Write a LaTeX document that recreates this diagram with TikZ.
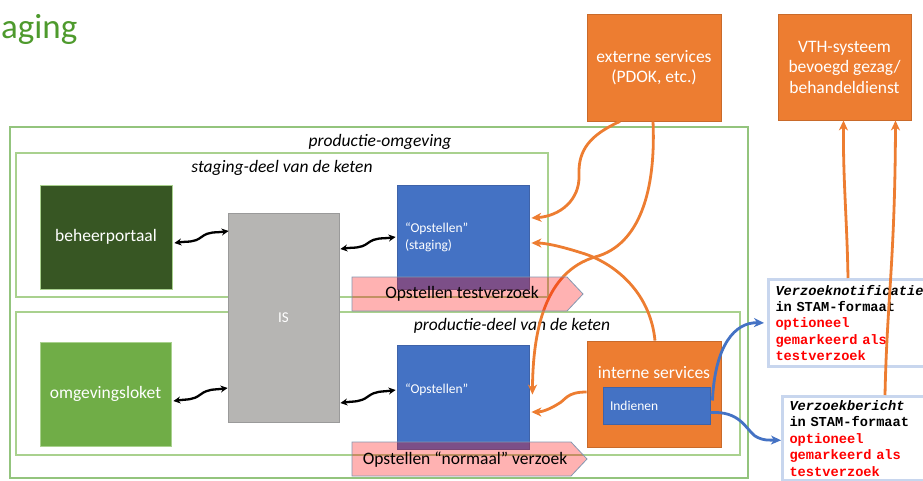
\documentclass[tikz,border=0pt]{standalone}
\usepackage{fontspec}
\setmainfont{Carlito}
\newfontfamily\monof{Liberation Mono}
\usetikzlibrary{arrows.meta,calc}
\definecolor{ctitle}{HTML}{4E9A2D}
\definecolor{cline}{HTML}{A9D18E}
\definecolor{clineo}{HTML}{93C47D}
\definecolor{cdkgreen}{HTML}{375623}
\definecolor{cgreen}{HTML}{70AD47}
\definecolor{cgray}{HTML}{B6B5B3}
\definecolor{cgrayb}{HTML}{9A9A9A}
\definecolor{cblue}{HTML}{4472C4}
\definecolor{cblueb}{HTML}{3F63A8}
\definecolor{corange}{HTML}{ED7D31}
\definecolor{corangeb}{HTML}{C96A2A}
\definecolor{cpinkb}{HTML}{8497B0}
\definecolor{cglow}{HTML}{C8D6EE}
\begin{document}
\begin{tikzpicture}[x=1pt,y=-1pt,
  box/.style={draw, line width=0.8pt, inner sep=0pt, text=white, align=center,
    font=\fontsize{17.5}{20.5}\selectfont},
  small/.style={font=\fontsize{13.5}{17}\selectfont},
  lbl/.style={inner sep=0pt, font=\fontsize{17.5}{20.5}\selectfont\itshape},
  cont/.style={draw=cline, line width=1.2pt},
  oarr/.style={draw=corange, line width=2.8pt, -{Stealth[length=10pt,width=9pt,inset=3pt]}},
  barr/.style={draw=cblue, line width=2.8pt, -{Stealth[length=10pt,width=9pt,inset=3pt]}},
  dbl/.style={line width=2.3pt, {Stealth[length=7pt,width=7pt]}-{Stealth[length=7pt,width=7pt]}},
  vbox/.style={draw=cglow, line width=3pt, fill=white, align=left, inner xsep=7pt,
    font=\monof\bfseries\fontsize{13.7}{16.4}\selectfont},
  pinkarrow/.style={fill=red, fill opacity=0.3, draw=cpinkb, draw opacity=1, line width=0.8pt},
]
\useasboundingbox (0,0) rectangle (923,480);

% title
\node[anchor=base west, inner sep=0pt, text=ctitle, font=\fontsize{35}{38}\selectfont] (title) at (1,38) {aging};

% containers
\draw[draw=clineo, line width=1.2pt] (10,127) rectangle (748,478);
\node[lbl] (lprod) at (380,142) {productie-omgeving};
\draw[cont] (16,153) rectangle (548,297);
\node[lbl] (lstag) at (282,168) {staging-deel van de keten};
\draw[cont] (16,312) rectangle (740,455);
\node[lbl] (lpd) at (512,326) {productie-deel van de keten};

% boxes
\node[box, fill=cdkgreen, draw=cline, minimum width=132pt, minimum height=104pt] (bp) at (106,237) {beheerportaal};
\node[box, fill=cgreen, draw=cline, minimum width=131pt, minimum height=104pt] (ol) at (105.5,394) {omgevingsloket};
\node[box, fill=cgray, draw=cgrayb, minimum width=111pt, minimum height=209pt, font=\fontsize{15}{18}\selectfont] (is) at (283.5,317.5) {IS};
\node[box, small, fill=cblue, draw=cblueb, minimum width=132pt, minimum height=104pt, text width=116pt, align=left] (ops) at (463,237) {“Opstellen”\\(staging)};
\node[box, small, fill=cblue, draw=cblueb, minimum width=132pt, minimum height=104pt, text width=116pt, align=left] (opp) at (463,397) {“Opstellen”\\\mbox{}};
\node[box, fill=corange, draw=corangeb, minimum width=134pt, minimum height=107pt] (ext) at (654,67.5) {externe services\\(PDOK, etc.)};
\node[box, fill=corange, draw=corangeb, minimum width=133pt, minimum height=106pt] (vth) at (844.5,67) {VTH-systeem\\bevoegd gezag/\\behandeldienst};
\node[box, fill=corange, draw=corangeb, minimum width=134pt, minimum height=106pt] (int) at (654,394) {};
\node[inner sep=0pt, text=white, font=\fontsize{17.5}{20.5}\selectfont] (intT) at (654,373) {interne services};
\node[box, small, fill=cblue, draw=cblueb, minimum width=107pt, minimum height=37pt, text width=93pt, align=left] (ind) at (656.5,405.5) {Indienen};

% message boxes
\node[vbox, anchor=north west, inner ysep=5.5pt, text width=150pt] (vn) at (767,278)
  {\textit{Verzoeknotificatie}\\in STAM-formaat\\\textcolor{red}{optioneel}\\\textcolor{red}{gemarkeerd als}\\\textcolor{red}{testverzoek}};
\node[vbox, anchor=north west, inner ysep=4pt, text width=150pt] (vb) at (781,395)
  {\textit{Verzoekbericht}\\in STAM-formaat\\\textcolor{red}{optioneel}\\\textcolor{red}{gemarkeerd als}\\\textcolor{red}{testverzoek}};

% black wavy double arrows
\coordinate (w1a) at ($(bp.east)+(2,6)$);  \coordinate (w1b) at ($(is.west)+(1,-86.5)$);
\coordinate (w2a) at ($(ol.east)+(2,7)$);  \coordinate (w2b) at ($(is.west)+(0,70.5)$);
\coordinate (w3a) at ($(is.east)+(1,-68.5)$); \coordinate (w3b) at ($(ops.west)+(-1,0)$);
\coordinate (w4a) at ($(is.east)+(1,85.5)$);  \coordinate (w4b) at ($(opp.west)+(-1,-7)$);
\foreach \a/\b in {w1a/w1b, w2a/w2b, w3a/w3b, w4a/w4b}{
  \draw[dbl] (\a) .. controls +(14,-2) and +(-8,6) .. ($(\a)!0.5!(\b)$) .. controls +(8,-6) and +(-14,2) .. (\b);
}

% orange connectors
\draw[oarr] ($(ext.south)+(-34,0)$) .. controls (590,135) and (578,150) .. (579,175)
  .. controls (580,200) and (560,216) .. ($(ops.east)+(2,-19)$);
\draw[oarr] ($(ext.south)+(-1,0)$) .. controls (656,190) and (640,245) .. (595,257)
  .. controls (545,272) and (533,330) .. ($(opp.north east)+(3,50)$);
\draw[oarr] ($(int.north)+(1,0)$) .. controls (650,290) and (612,262) .. (582,253)
  .. controls (560,246) and (545,243) .. ($(ops.east)+(2,6)$);
\draw[oarr] ($(int.west)+(0,-2)$) .. controls (566,392) and (566,400) .. (558,404)
  .. controls (550,409) and (542,412) .. ($(opp.east)+(2,15)$);
\draw[oarr] ($(vn.north west)+(81,0)$) .. controls (847,220) and (843,180) .. ($(vth.south)+(-1,0)$);
\draw[oarr] ($(vb.north west)+(104,0)$) .. controls (887,300) and (895,260) .. ($(vth.south)+(51,0)$);

% blue connectors
\draw[barr] ($(ind.east)+(2,-5)$) .. controls (715,345) and (735,322) .. ($(vn.west)+(-3,0)$);
\draw[barr] ($(ind.east)+(0,7)$) .. controls (740,411) and (745,428) .. (755,436)
  .. controls (763,441) and (770,440) .. ($(vb.west)+(0,2)$);

% pink process arrows
\path[pinkarrow] (352,277) -- (567,277) -- (583,294) -- (567,311) -- (352,311) -- cycle;
\node[inner sep=0pt, font=\fontsize{17.5}{20.5}\selectfont] (pt) at (462,294) {Opstellen testverzoek};
\path[pinkarrow] (352,442) -- (571,442) -- (587,459) -- (571,476) -- (352,476) -- cycle;
\node[inner sep=0pt, font=\fontsize{17.5}{20.5}\selectfont] (pn) at (465,460) {Opstellen “normaal” verzoek};
\end{tikzpicture}
\end{document}
